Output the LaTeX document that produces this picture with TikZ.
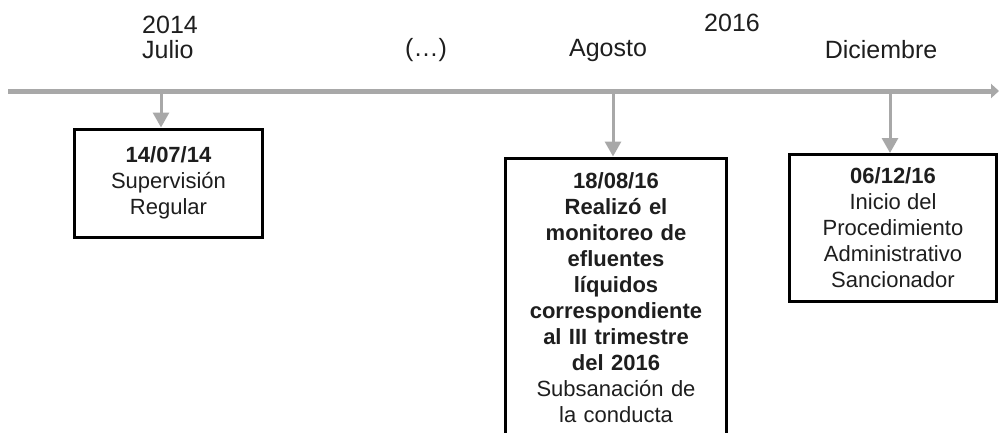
\documentclass[tikz,border=0pt]{standalone}
\usepackage{fontspec}
\setmainfont{Liberation Sans}
\usetikzlibrary{arrows.meta}
\definecolor{tlgray}{HTML}{A8A8A8}
\definecolor{ink}{HTML}{1E1E1E}
\begin{document}
\begin{tikzpicture}[x=1pt,y=-1pt,
  hdr/.style={font=\fontsize{25}{30}\selectfont, text=ink, inner sep=0pt},
  evbox/.style={draw=black, line width=3pt, fill=white, align=center, text=ink,
    font=\fontsize{22}{26}\selectfont, inner sep=0pt},
  drop/.style={draw=tlgray, line width=3pt, -{Triangle[width=16pt,length=15pt]}},
  axis/.style={draw=tlgray, line width=5pt, -{Triangle[width=14pt,length=8pt]}}]
\useasboundingbox (0,0) rectangle (1000,432);

% header labels
\node[hdr, anchor=west] (y2014) at (142,25) {2014};
\node[hdr, anchor=west] (julio) at (142,50) {Julio};
\node[hdr] (dots) at (426,50) {(\ldots)};
\node[hdr] (agosto) at (608,50) {Agosto};
\node[hdr] (y2016) at (732,23) {2016};
\node[hdr] (dic) at (881,50) {Diciembre};

% timeline
\coordinate (tlstart) at (8,91);
\coordinate (tlend) at (999,91);
\draw[axis] (tlstart) -- (tlend);

% boxes
\node[evbox, minimum width=188pt, minimum height=108pt] (b1) at (168.5,183) {%
  \textbf{14/07/14}\\Supervisión\\Regular};
\node[evbox, anchor=north, text width=200pt, minimum width=221pt, inner ysep=15pt] (b2) at (616,156.5) {%
  \textbf{18/08/16}\\\textbf{Realizó el}\\\textbf{monitoreo de}\\\textbf{efluentes}\\\textbf{líquidos}\\%
  \textbf{correspondiente}\\\textbf{al III trimestre}\\\textbf{del 2016}\\Subsanación de\\la conducta};
\node[evbox, minimum width=207pt, minimum height=147pt] (b3) at (893,228) {%
  \textbf{06/12/16}\\Inicio del\\Procedimiento\\Administrativo\\Sancionador};

% drops from timeline
\coordinate (d1) at (161,91);
\coordinate (d2) at (613,91);
\coordinate (d3) at (890,91);
\draw[drop] (d1) -- (d1 |- b1.north);
\draw[drop] (d2) -- (d2 |- b2.north);
\draw[drop] (d3) -- (d3 |- b3.north);
\end{tikzpicture}
\end{document}
